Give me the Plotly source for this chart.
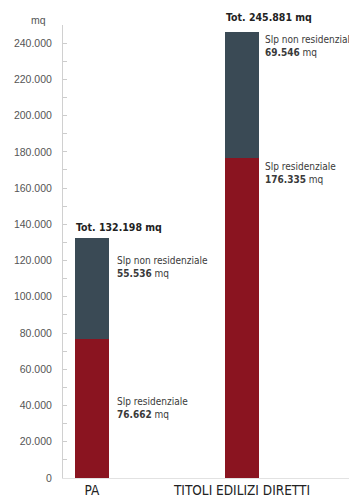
import plotly.graph_objects as go

categories = ["PA", "TITOLI EDILIZI DIRETTI"]
x_pos = [0, 1]
residenziale = [76662, 176335]
non_residenziale = [55536, 69546]
totali = [132198, 245881]
tick_vals = [0, 20000, 40000, 60000, 80000, 100000, 120000, 140000, 160000, 180000, 200000, 220000, 240000]
tick_text = ["0", "20.000", "40.000", "60.000", "80.000", "100.000", "120.000", "140.000",
             "160.000", "180.000", "200.000", "220.000", "240.000"]

RED = "#8a1420"
DARK = "#3a4a55"
COND = "DejaVu Sans Condensed, Liberation Sans Narrow, Arial, sans-serif"
SANS = "Liberation Sans, Arial, sans-serif"

def fmt(v):
    return f"{v:,}".replace(",", ".")

fig = go.Figure()
fig.add_trace(go.Bar(x=x_pos, y=residenziale, marker=dict(color=RED, line=dict(width=0)),
                     width=0.227, hoverinfo="skip"))
fig.add_trace(go.Bar(x=x_pos, y=non_residenziale, marker=dict(color=DARK, line=dict(width=0)),
                     width=0.227, hoverinfo="skip"))

# label positions (paper units for totals, data units for others)
tot_y = [(470 - 219) / 453, (470 - 9) / 453]
nonres_y = [116600, 238300]
res_y = [38600, 168300]
label_x_off = [0.153, 0.137]

for i in range(2):
    fig.add_annotation(x=x_pos[i] - 0.12, y=tot_y[i], xref="x", yref="paper",
                       text=f"<b>Tot. {fmt(totali[i])} mq</b>", showarrow=False,
                       xanchor="left", yanchor="middle",
                       font=dict(family=COND, size=10.5, color="#222"))
    fig.add_annotation(x=x_pos[i] + label_x_off[i], y=nonres_y[i], xref="x", yref="y",
                       text=f"Slp non residenziale<br><b>{fmt(non_residenziale[i])}</b> mq",
                       showarrow=False, xanchor="left", yanchor="middle", align="left",
                       font=dict(family=COND, size=10, color="#3a3a3a"))
    fig.add_annotation(x=x_pos[i] + label_x_off[i], y=res_y[i], xref="x", yref="y",
                       text=f"Slp residenziale<br><b>{fmt(residenziale[i])}</b> mq",
                       showarrow=False, xanchor="left", yanchor="middle", align="left",
                       font=dict(family=COND, size=10, color="#3a3a3a"))

fig.add_annotation(x=(40 - 55) / 294, y=(470 - 12) / 453, xref="paper", yref="paper",
                   text="mq", showarrow=False, xanchor="right", yanchor="middle",
                   font=dict(family=SANS, size=10.5, color="#555"))

fig.update_layout(
    barmode="stack",
    width=349, height=492,
    margin=dict(l=55, r=0, t=17, b=22),
    paper_bgcolor="white", plot_bgcolor="white",
    showlegend=False,
    xaxis=dict(range=[-0.193, 1.767], tickvals=x_pos, ticktext=categories, ticks="",
               showgrid=False, zeroline=False, showline=True, linecolor="#e2e2e2", linewidth=1,
               tickfont=dict(family=COND, size=13.5, color="#222"), fixedrange=True,
               automargin=False),
    yaxis=dict(range=[0, 250000], tickvals=tick_vals, ticktext=tick_text, ticks="inside",
               ticklen=4, tickcolor="#cccccc", showgrid=False, zeroline=False,
               showline=True, linecolor="#d0d0d0", linewidth=1, ticklabelstandoff=8,
               minor=dict(tickvals=[v + 10000 for v in tick_vals[:-1]], ticks="inside",
                          ticklen=4, tickcolor="#cccccc"),
               tickfont=dict(family=SANS, size=10.5, color="#555"),
               fixedrange=True, automargin=False),
)

fig.write_html("out.html")
